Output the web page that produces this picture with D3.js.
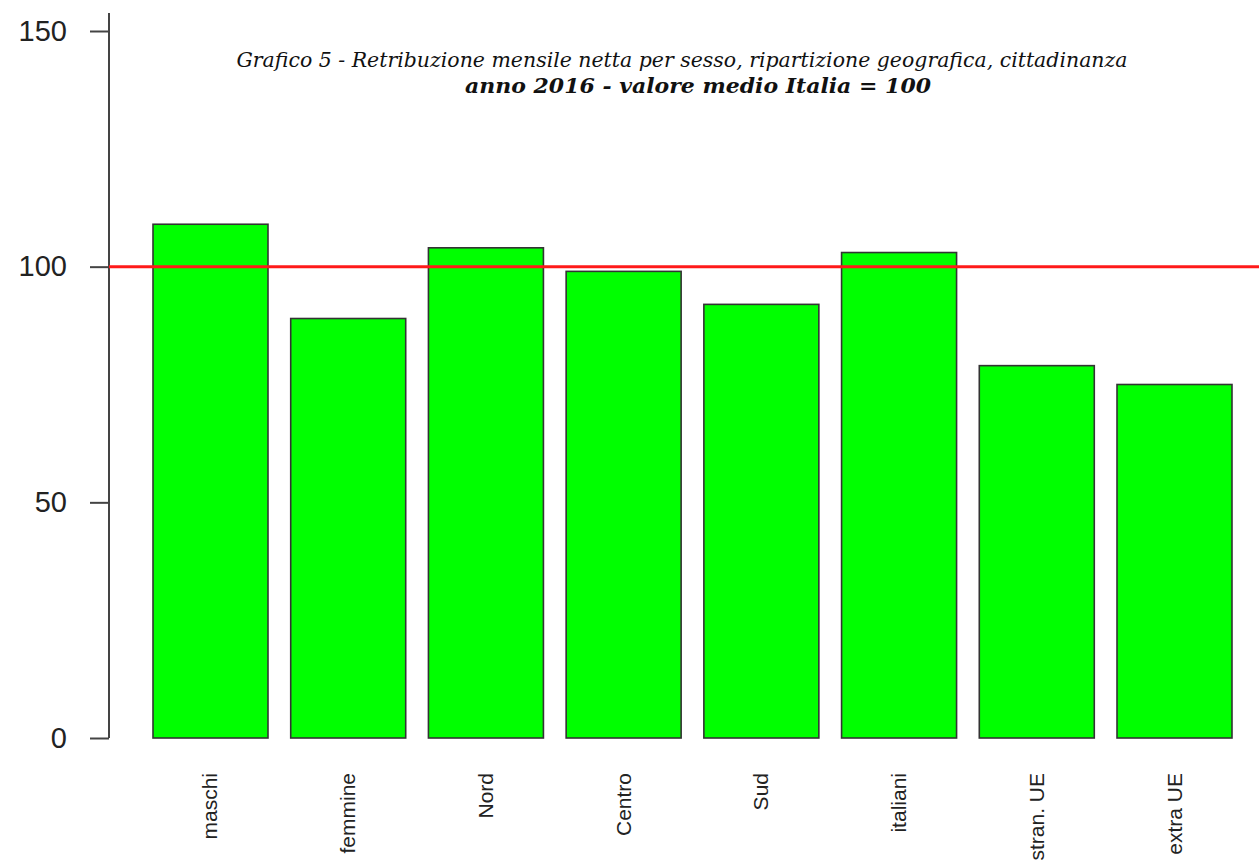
<!DOCTYPE html>
<html>
<head>
<meta charset="utf-8">
<script src="https://cdn.jsdelivr.net/npm/d3@7"></script>
<style>
  html, body { margin: 0; padding: 0; background: #fff; }
  svg { display: block; }
</style>
</head>
<body>
<svg id="chart" width="1259" height="861"></svg>
<script>
const categories = ["maschi", "femmine", "Nord", "Centro", "Sud", "italiani", "stran. UE", "extra UE"];
const values = [109, 89, 104, 99, 92, 103, 79, 75];
const yTicks = [0, 50, 100, 150];
const referenceValue = 100;
const titleLine1 = "Grafico 5 - Retribuzione mensile netta per sesso, ripartizione geografica, cittadinanza";
const titleLine2 = "anno 2016 - valore medio Italia = 100";

const svg = d3.select("#chart");

const y = d3.scaleLinear().domain([0, 150]).range([738, 31]);
const x = d3.scaleBand().domain(categories).range([153, 1232]).paddingInner(0.165).paddingOuter(0);

// y axis
const axisX = 109;
const yAxis = d3.axisLeft(y).tickValues(yTicks).tickSize(19).tickPadding(23).tickSizeOuter(0);
const gy = svg.append("g").attr("transform", `translate(${axisX},0)`).call(yAxis);
gy.select(".domain").attr("d", `M0,13V${y(0)}`).attr("stroke", "#444").attr("stroke-width", 2);
gy.selectAll(".tick line").attr("stroke", "#444").attr("stroke-width", 2);
gy.selectAll(".tick text")
  .attr("font-family", "'Liberation Sans', Arial, sans-serif")
  .attr("font-size", 29)
  .attr("fill", "#222");

// bars
svg.append("g").selectAll("rect")
  .data(categories)
  .join("rect")
  .attr("x", d => x(d))
  .attr("width", x.bandwidth())
  .attr("y", (d, i) => y(values[i]))
  .attr("height", (d, i) => y(0) - y(values[i]))
  .attr("fill", "#00ff00")
  .attr("stroke", "#333")
  .attr("stroke-width", 1.6);

// reference line
svg.append("line")
  .attr("x1", axisX).attr("x2", 1259)
  .attr("y1", y(referenceValue)).attr("y2", y(referenceValue))
  .attr("stroke", "#ff1a1a")
  .attr("stroke-width", 3);

// x labels (rotated)
svg.append("g").selectAll("text")
  .data(categories)
  .join("text")
  .attr("transform", d => `translate(${x(d) + x.bandwidth() / 2 + 7},773) rotate(-90)`)
  .attr("text-anchor", "end")
  .attr("font-family", "'Liberation Sans', Arial, sans-serif")
  .attr("font-size", 21)
  .attr("fill", "#222")
  .text(d => d);

// title
svg.append("text")
  .attr("x", 682).attr("y", 67)
  .attr("text-anchor", "middle")
  .attr("font-family", "'DejaVu Serif', Georgia, serif")
  .attr("font-style", "italic")
  .attr("font-size", 20.5)
  .attr("textLength", 891)
  .attr("lengthAdjust", "spacingAndGlyphs")
  .attr("fill", "#111")
  .text(titleLine1);

svg.append("text")
  .attr("x", 698).attr("y", 93)
  .attr("text-anchor", "middle")
  .attr("font-family", "'DejaVu Serif', Georgia, serif")
  .attr("font-style", "italic")
  .attr("font-weight", "bold")
  .attr("font-size", 21)
  .attr("textLength", 466)
  .attr("lengthAdjust", "spacingAndGlyphs")
  .attr("fill", "#111")
  .text(titleLine2);
</script>
</body>
</html>
